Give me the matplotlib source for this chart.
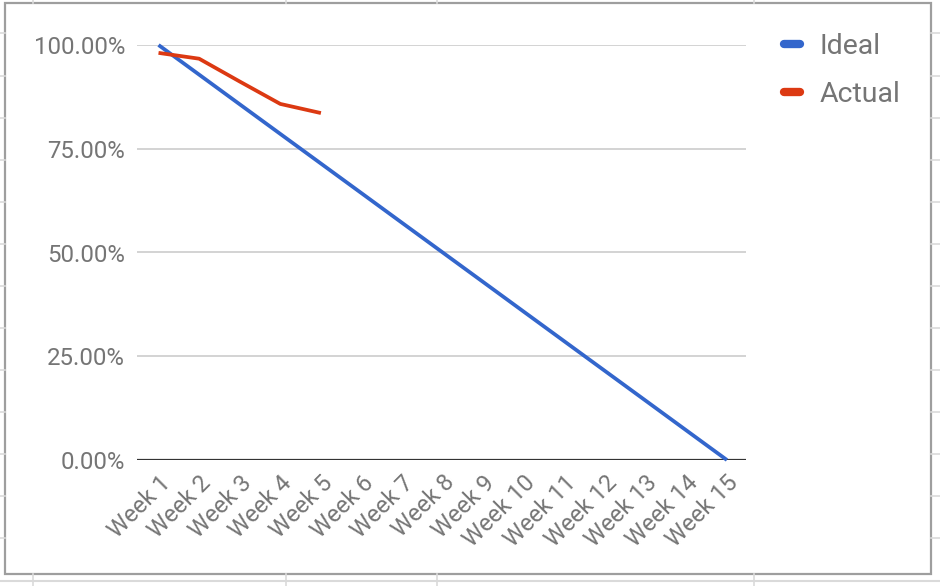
import matplotlib
matplotlib.use("Agg")
import matplotlib.pyplot as plt
import matplotlib.transforms as mtransforms
from matplotlib.lines import Line2D
from matplotlib.patches import Rectangle

# burndown data (percent of work remaining)
weeks = ["Week 1", "Week 2", "Week 3", "Week 4", "Week 5", "Week 6", "Week 7", "Week 8",
         "Week 9", "Week 10", "Week 11", "Week 12", "Week 13", "Week 14", "Week 15"]
ideal = [100.0, 92.86, 85.71, 78.57, 71.43, 64.29, 57.14, 50.0,
         42.86, 35.71, 28.57, 21.43, 14.29, 7.14, 0.0]
actual = [98.1, 96.7, 91.2, 85.8, 83.6]
yticks = [0, 25, 50, 75, 100]
ytick_labels = ["0.00%", "25.00%", "50.00%", "75.00%", "100.00%"]

W, H = 940, 586
BLUE = "#3366cc"
RED = "#dc3912"
TXT = "#757575"

plt.rcParams['font.family'] = ['Roboto', 'DejaVu Sans']

fig = plt.figure(figsize=(W / 100, H / 100), dpi=100)
fig.patch.set_facecolor("white")


def fx(px):
    return px / W


def fy(py):
    return 1 - py / H


# spreadsheet cell lines behind the chart frame
cell = "#dadada"
for yy in [33, 76, 118, 160, 202, 244, 286, 328, 370, 412, 454, 496, 538]:
    fig.add_artist(Line2D([0, fx(5)], [fy(yy), fy(yy)], color=cell, lw=1.2, transform=fig.transFigure))
    fig.add_artist(Line2D([fx(931), 1], [fy(yy), fy(yy)], color=cell, lw=1.2, transform=fig.transFigure))
fig.add_artist(Line2D([0, 1], [fy(581), fy(581)], color=cell, lw=1.5, transform=fig.transFigure))
for xx in [33, 286, 437, 754]:
    fig.add_artist(Line2D([fx(xx), fx(xx)], [1, fy(3)], color=cell, lw=1.2, transform=fig.transFigure))
    fig.add_artist(Line2D([fx(xx), fx(xx)], [fy(574), 0], color=cell, lw=1.2, transform=fig.transFigure))
# chart frame
fig.add_artist(Rectangle((fx(5), fy(574)), fx(931) - fx(5), fy(3) - fy(574), fill=False,
                         edgecolor="#9e9e9e", lw=1.6, transform=fig.transFigure))

ax = fig.add_axes([fx(137), fy(460), fx(746) - fx(137), fy(45) - fy(460)])
ax.set_facecolor("none")

x = list(range(len(weeks)))
ax.set_xlim(-0.53, 14.47)
ax.set_ylim(0, 100)

for t in yticks[1:]:
    ax.axhline(t, color="#c8c8c8", lw=1.1, zorder=1)
ax.axhline(0, color="#333333", lw=1.6, zorder=2)

ax.plot(x, ideal, color=BLUE, lw=2.7, clip_on=False, zorder=3, solid_capstyle="butt")
ax.plot(x[:len(actual)], actual, color=RED, lw=2.7, clip_on=False, zorder=4, solid_capstyle="butt")

for s in ax.spines.values():
    s.set_visible(False)

ax.set_yticks(yticks)
ax.set_yticklabels(ytick_labels, fontsize=17.3, color=TXT)
ax.tick_params(axis="y", length=0, pad=8.5)

ax.set_xticks(x)
ax.set_xticklabels(weeks, fontsize=17, color=TXT, rotation=45, ha="right", va="top",
                   rotation_mode="anchor")
ax.tick_params(axis="x", length=0, pad=8)
off = mtransforms.ScaledTranslation(0, 0, fig.dpi_scale_trans)
for lab in ax.get_xticklabels():
    lab.set_transform(lab.get_transform() + off)

handles = [Line2D([], [], color=BLUE, lw=6, solid_capstyle="round"),
           Line2D([], [], color=RED, lw=6, solid_capstyle="round")]
leg = fig.legend(handles, ["Ideal", "Actual"], loc="upper left",
                 bbox_to_anchor=(fx(784), fy(33)), frameon=False, fontsize=20.5,
                 handlelength=0.55, handletextpad=0.7, labelspacing=0.75,
                 borderpad=0, borderaxespad=0)
for t in leg.get_texts():
    t.set_color(TXT)

fig.savefig("out.png", dpi=100, facecolor="white")
